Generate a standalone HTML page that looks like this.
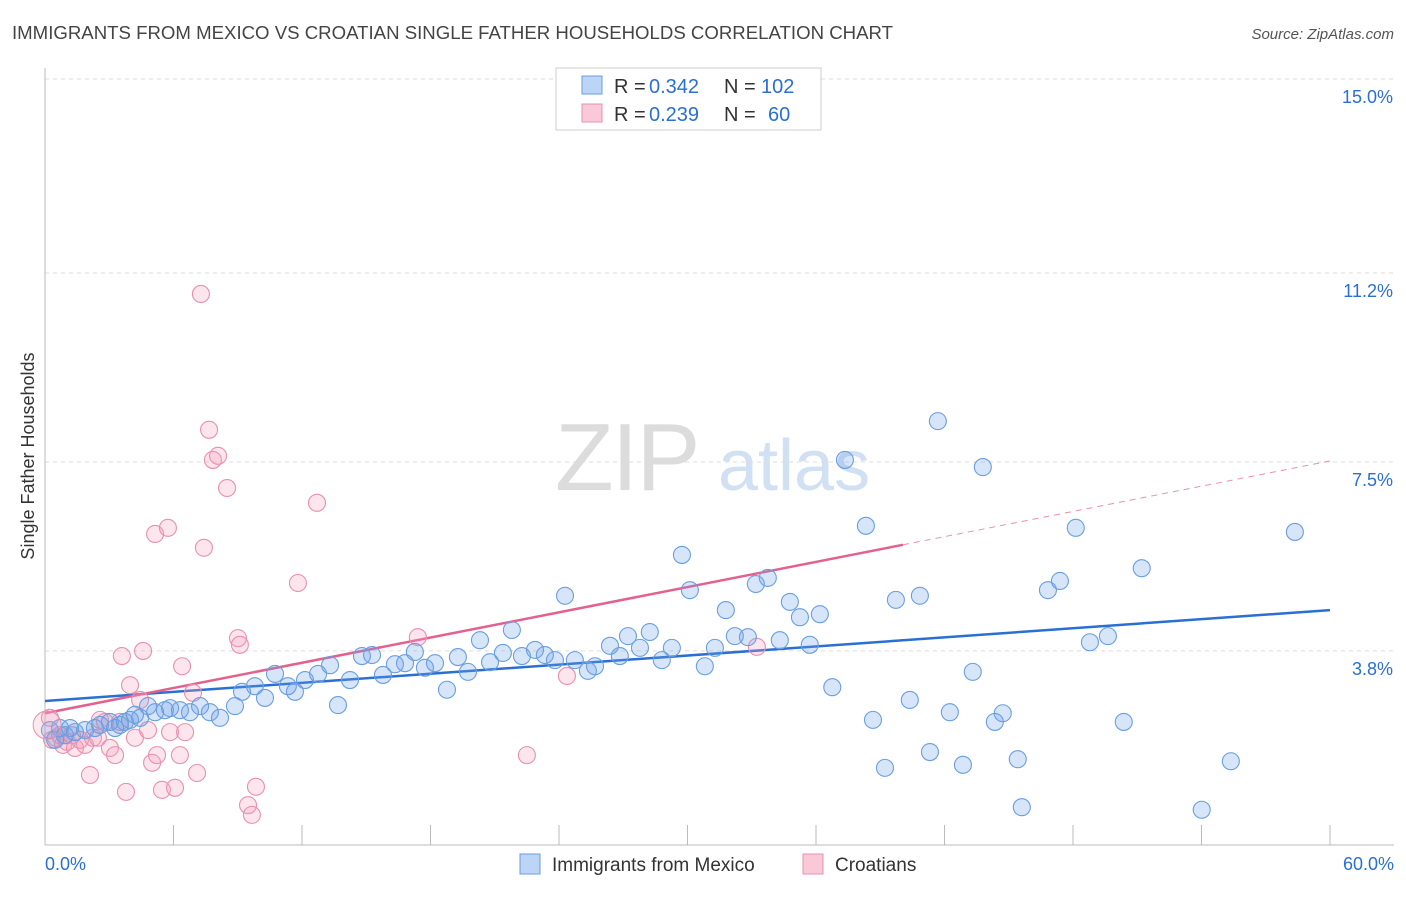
<!DOCTYPE html>
<html><head><meta charset="utf-8">
<style>
body{margin:0;background:#fff;font-family:"Liberation Sans",sans-serif;}
svg text{font-family:"Liberation Sans",sans-serif;}
</style></head>
<body>
<svg id="chart" width="1406" height="892" xmlns="http://www.w3.org/2000/svg">
<text x="12" y="39" font-size="18" fill="#444" textLength="881" lengthAdjust="spacingAndGlyphs">IMMIGRANTS FROM MEXICO VS CROATIAN SINGLE FATHER HOUSEHOLDS CORRELATION CHART</text>
<text x="1394" y="39" font-size="15" fill="#555" text-anchor="end" font-style="italic">Source: ZipAtlas.com</text>
<g>
<text x="555" y="490" font-size="96" fill="#dcdcdc" font-family="Liberation Serif" letter-spacing="-2">ZIP</text>
<text x="718" y="490" font-size="72" fill="#d2e0f3">atlas</text>
</g>
<g id="grid"></g>
<g id="axes"></g>
<g id="trends"></g>
<g id="pts"></g>
<text transform="translate(34,456) rotate(-90)" font-size="18" fill="#333" text-anchor="middle">Single Father Households</text>
<g>
<rect x="556" y="68" width="265" height="62" fill="#fff" stroke="#ccc"/>
<rect x="582" y="76" width="20" height="18" fill="#bcd4f5" stroke="#6a9ee0"/>
<rect x="582" y="104" width="20" height="18" fill="#f9c9d8" stroke="#e890ae"/>
<text x="614" y="93" font-size="20" fill="#333">R =</text>
<text x="649" y="93" font-size="20" fill="#2a6fd4">0.342</text>
<text x="724" y="93" font-size="20" fill="#333">N =</text>
<text x="761" y="93" font-size="20" fill="#2a6fd4">102</text>
<text x="614" y="121" font-size="20" fill="#333">R =</text>
<text x="649" y="121" font-size="20" fill="#2a6fd4">0.239</text>
<text x="724" y="121" font-size="20" fill="#333">N =</text>
<text x="768" y="121" font-size="20" fill="#2a6fd4">60</text>
</g>
<g>
<rect x="520" y="854" width="20" height="20" fill="#bcd4f5" stroke="#6a9ee0"/>
<text x="552" y="871" font-size="19" fill="#333">Immigrants from Mexico</text>
<rect x="803" y="854" width="20" height="20" fill="#f9c9d8" stroke="#e890ae"/>
<text x="835" y="871" font-size="19" fill="#333">Croatians</text>
</g>
</svg>
<script>
const yTicks=[3.8,7.5,11.2,15.0];
const yTickLabels=["3.8%","7.5%","11.2%","15.0%"];
const xTickLabels=["0.0%","60.0%"];
const blueX=[0.23,0.47,0.70,0.93,1.17,1.40,1.87,2.33,2.57,3.03,3.27,3.50,3.73,3.97,4.20,4.44,4.81,5.14,5.60,5.84,6.30,6.77,7.24,7.70,8.17,8.87,9.20,9.80,10.27,10.74,11.34,11.67,12.14,12.75,13.31,13.68,14.24,14.80,15.27,15.78,16.34,16.81,17.27,17.74,18.21,18.77,19.28,19.75,20.31,20.78,21.38,21.80,22.27,22.88,23.34,23.81,24.28,24.74,25.35,25.68,26.38,26.84,27.22,27.78,28.24,28.80,29.27,29.74,30.11,30.81,31.28,31.79,32.21,32.82,33.19,33.75,34.31,34.78,35.25,35.71,36.18,36.76,37.35,38.33,38.66,39.22,39.73,40.38,40.85,41.32,41.69,42.25,42.86,43.32,43.79,44.35,44.72,45.42,45.61,46.83,47.39,48.13,48.79,49.63,50.37,51.21,54.01,55.37,58.36];
const blueY=[2.25,2.06,2.29,2.15,2.29,2.21,2.25,2.29,2.35,2.41,2.29,2.35,2.41,2.45,2.55,2.49,2.72,2.60,2.64,2.68,2.64,2.60,2.72,2.60,2.49,2.72,3.00,3.11,2.88,3.35,3.11,3.00,3.23,3.35,3.52,2.74,3.23,3.70,3.72,3.33,3.54,3.56,3.78,3.47,3.56,3.04,3.68,3.39,4.01,3.58,3.76,4.21,3.70,3.82,3.72,3.62,4.88,3.62,3.41,3.50,3.90,3.70,4.09,3.86,4.17,3.62,3.86,5.68,4.99,3.50,3.86,4.60,4.09,4.07,5.11,5.23,4.01,4.76,4.46,3.92,4.52,3.09,7.54,6.25,2.45,1.51,4.80,2.84,4.88,1.82,8.30,2.60,1.57,3.39,7.40,2.41,2.58,1.68,0.74,4.99,5.17,6.21,3.97,4.09,2.41,5.42,0.69,1.64,6.13];
const pinkX=[0.23,0.33,0.51,0.70,0.84,1.03,1.26,1.40,1.63,1.87,2.10,2.24,2.47,2.57,2.80,3.03,3.27,3.50,3.59,3.78,3.97,4.20,4.44,4.58,4.81,5.00,5.14,5.23,5.46,5.74,5.84,6.07,6.30,6.40,6.54,6.91,7.10,7.28,7.42,7.66,7.84,8.08,8.50,9.01,9.10,9.48,9.66,9.85,11.81,12.70,17.41,22.50,24.37,33.24];
const pinkY=[2.49,2.06,2.10,2.15,1.96,2.02,2.15,1.90,2.06,1.96,1.37,2.10,2.10,2.45,2.41,1.90,1.76,2.41,3.70,1.04,3.13,2.10,2.84,3.80,2.25,1.61,6.09,1.76,1.08,6.21,2.21,1.12,1.76,3.50,2.21,2.98,1.41,10.79,5.82,8.13,7.54,7.62,6.99,4.05,3.92,0.78,0.59,1.14,5.13,6.70,4.07,1.76,3.31,3.88];
const blueTrend=[2.82,4.60];
const pinkTrend=[2.58,7.52];
const pinkSolidEnd=40.06;
const X0=45,X1=1330,Y0=845;
const xs=v=>X0+v/60*(X1-X0);
const ys=v=>Y0-v*51.07;
const NS="http://www.w3.org/2000/svg";
function mk(tag,attrs,parent){const e=document.createElementNS(NS,tag);for(const k in attrs)e.setAttribute(k,attrs[k]);parent.appendChild(e);return e;}
const grid=document.getElementById('grid'),axes=document.getElementById('axes'),tr=document.getElementById('trends'),pts=document.getElementById('pts');
yTicks.forEach((t,i)=>{
 const l=mk('line',{x1:X0,x2:1394,y1:ys(t),y2:ys(t),stroke:'#ddd','stroke-dasharray':'4,4'},grid);
 
 
 const tx=mk('text',{x:1393,y:ys(t)+24,'font-size':18,fill:'#2a6fd4','text-anchor':'end'},axes);
 tx.textContent=yTickLabels[i];
 
 
});
const topL=mk('line',{x1:X0,x2:1394,y1:ys(15),y2:ys(15),stroke:'#ddd','stroke-dasharray':'4,4'},grid);


const ya=mk('line',{x1:X0,x2:X0,y1:68,y2:Y0,stroke:'#bbb'},axes);


const xa=mk('line',{x1:X0,x2:1394,y1:Y0,y2:Y0,stroke:'#bbb'},axes);


for(let v=0;v<=60;v+=6){
 const t=mk('line',{x1:xs(v),x2:xs(v),y1:Y0,y2:Y0-20,stroke:'#bbb'},axes);
 
 
}
[[0,'start',45],[60,'end',1394]].forEach((d,i)=>{
 const tx=mk('text',{x:d[2],y:870,'font-size':18,fill:'#2a6fd4','text-anchor':d[1]},axes);
 tx.textContent=xTickLabels[i];
 
 
});
function dot(x,y,fill,stroke,name){
 const c=mk('circle',{cx:xs(x),cy:ys(y),r:8.5,fill:fill,stroke:stroke,'stroke-width':1.1},pts);
 
 
}
pinkX.forEach((x,i)=>dot(x,pinkY[i],'rgba(244,160,190,0.28)','#e890ae','croatians-point'));
blueX.forEach((x,i)=>dot(x,blueY[i],'rgba(110,160,230,0.28)','#6a9ee0','mexico-point'));
const big=mk('circle',{cx:xs(0.1),cy:ys(2.35),r:14,fill:'rgba(244,160,190,0.22)',stroke:'#e890ae'},pts);


const bl=mk('line',{x1:xs(0),y1:ys(blueTrend[0]),x2:xs(60),y2:ys(blueTrend[1]),stroke:'#2a6fd4','stroke-width':2.5},tr);


const pAt=x=>pinkTrend[0]+(pinkTrend[1]-pinkTrend[0])*x/60;
const pl=mk('line',{x1:xs(0),y1:ys(pinkTrend[0]),x2:xs(pinkSolidEnd),y2:ys(pAt(pinkSolidEnd)),stroke:'#e4608e','stroke-width':2.5},tr);


const pd=mk('line',{x1:xs(pinkSolidEnd),y1:ys(pAt(pinkSolidEnd)),x2:xs(60),y2:ys(pinkTrend[1]),stroke:'#e890ae','stroke-width':1,'stroke-dasharray':'6,5'},tr);


</script>
</body></html>
